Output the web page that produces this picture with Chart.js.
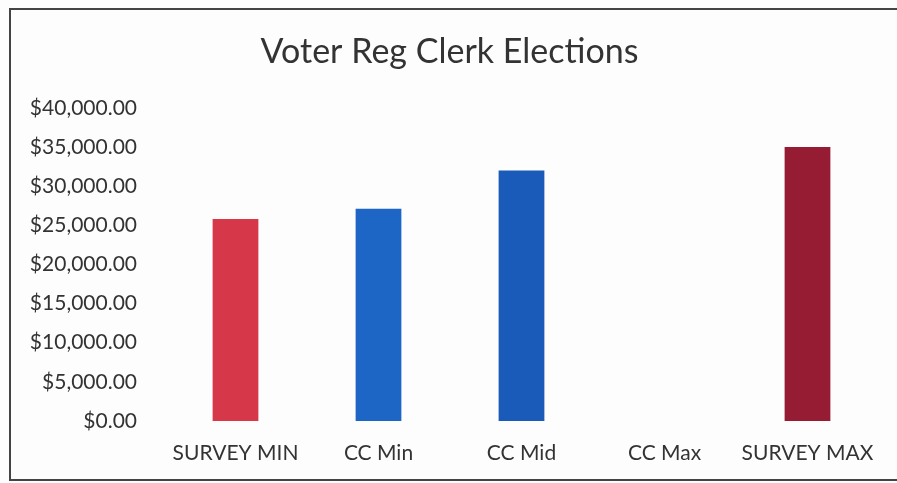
<!DOCTYPE html>
<html>
<head>
<meta charset="utf-8">
<script src="https://cdn.jsdelivr.net/npm/chart.js@4/dist/chart.umd.min.js"></script>
<style>
  html, body { margin: 0; padding: 0; background: #fdfdfd; overflow: hidden; }
  #wrap { position: relative; width: 897px; height: 483px; overflow: hidden; }
  #frame { position: absolute; left: 9px; top: 8px; width: 940px; height: 473px;
           border: 2px solid #444; border-right: none; box-sizing: border-box; }
  canvas { position: absolute; left: 0; top: 0; }
</style>
</head>
<body>
<div id="wrap">
  <div id="frame"></div>
  <canvas id="salaryChart" width="897" height="483"></canvas>
</div>
<script>
// chart data
const categories = ['SURVEY MIN', 'CC Min', 'CC Mid', 'CC Max', 'SURVEY MAX'];
const salaries = [25800, 27100, 32000, null, 35000];
const barColors = ['#d6384a', '#1e66c6', '#1a5ab8', '#1a5ab8', '#961c34'];
const yTicks = [0, 5000, 10000, 15000, 20000, 25000, 30000, 35000, 40000];

const money = v => '$' + v.toLocaleString('en-US', {minimumFractionDigits: 2, maximumFractionDigits: 2});

const ctx = document.getElementById('salaryChart').getContext('2d');
const salaryChart = new Chart(ctx, {
  type: 'bar',
  data: {
    labels: categories,
    datasets: [{
      data: salaries,
      backgroundColor: barColors,
      borderWidth: 0,
      barPercentage: 0.32,
      categoryPercentage: 1
    }]
  },
  options: {
    responsive: false,
    animation: false,
    layout: { padding: { left: 20, right: 18, top: 0, bottom: 0 } },
    plugins: {
      legend: { display: false },
      tooltip: { enabled: false },
      title: {
        display: true,
        text: 'Voter Reg Clerk Elections',
        color: '#333',
        font: { family: 'Lato', size: 34, weight: 'normal' },
        padding: { top: 32, bottom: 35 }
      }
    },
    scales: {
      x: {
        grid: { display: false, drawTicks: false },
        border: { display: false },
        afterFit: s => { s.height = 62; },
        ticks: { color: '#333', font: { family: 'Lato', size: 21 }, padding: 20, maxRotation: 0 }
      },
      y: {
        min: 0,
        max: 40000,
        grid: { display: false, drawTicks: false },
        border: { display: false },
        afterFit: s => { s.width = 144; },
        afterBuildTicks: s => { s.ticks = yTicks.map(v => ({ value: v })); },
        ticks: {
          color: '#333',
          font: { family: 'Lato', size: 21 },
          padding: 27,
          callback: v => money(v)
        }
      }
    }
  }
});
</script>
</body>
</html>
